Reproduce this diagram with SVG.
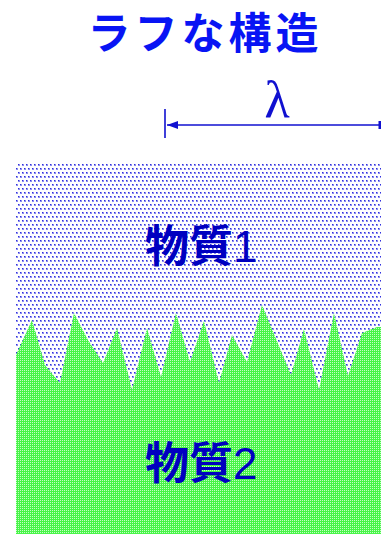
<svg xmlns="http://www.w3.org/2000/svg" width="381" height="534" viewBox="0 0 381 534">
<style>
.jp{font-family:"Liberation Sans","Noto Sans CJK JP",sans-serif;}
.title{fill:#0814f4;font-size:43px;letter-spacing:4px;font-weight:700;}
.label{fill:#0000c0;font-size:44px;font-weight:700;}
.num{font-weight:400;}
.dim{stroke:#1010d0;stroke-width:1.6;fill:none;}
.px{shape-rendering:crispEdges;}
</style>
<defs>
<pattern id="dots" width="4" height="8" patternUnits="userSpaceOnUse">
<rect class="px" width="4" height="8" fill="#ffffff"/>
<rect class="px" x="0" y="0" width="2" height="2" fill="#8c8cf0"/>
<rect class="px" x="0" y="0" width="1" height="1" fill="#3030dc"/>
<rect class="px" x="2" y="4" width="2" height="2" fill="#8c8cf0"/>
<rect class="px" x="2" y="4" width="1" height="1" fill="#3030dc"/>
</pattern>
<pattern id="grn" width="2" height="2" patternUnits="userSpaceOnUse">
<rect class="px" width="2" height="2" fill="#48f448"/>
<rect class="px" x="0" y="0" width="1" height="1" fill="#c4ffc4"/>
</pattern>
<marker id="ah" markerWidth="12" markerHeight="8" refX="0" refY="4" orient="auto" markerUnits="userSpaceOnUse">
<path d="M0,4 L11,0 L11,8 Z" fill="#1010d0"/>
</marker>
</defs>
<g id="title"><text class="jp title" x="205" y="49" text-anchor="middle">ラフな構造</text></g>
<g id="connectors">
<line class="dim" x1="165" y1="109" x2="165" y2="138"/>
<line class="dim" x1="167" y1="125" x2="381" y2="125" marker-start="url(#ah)"/>
<rect x="378.5" y="121" width="3" height="8" fill="#1010d0"/>
</g>
<g id="lambda"><text x="277" y="117" text-anchor="middle" font-family="'Liberation Serif',serif" font-size="52" fill="#1010d0">λ</text></g>
<g id="material1">
<rect x="16" y="163" width="365" height="371" fill="url(#dots)"/>
</g>
<g id="material2">
<polygon fill="url(#grn)" points="16,355 32,320 45,365 60,383 74,313 88,340 103,363 117,328 132,390 147,328 161,377 176,313 190,362 204,321 219,383 232,335 247,362 262,305 291,375 304,329 319,390 334,313 348,376 362,333 377,327 381,327 381,534 16,534"/>
</g>
<g id="label1"><text class="jp label" x="145" y="262">物質<tspan class="num">1</tspan></text></g>
<g id="label2"><text class="jp label" x="145" y="479">物質<tspan class="num">2</tspan></text></g>
</svg>
